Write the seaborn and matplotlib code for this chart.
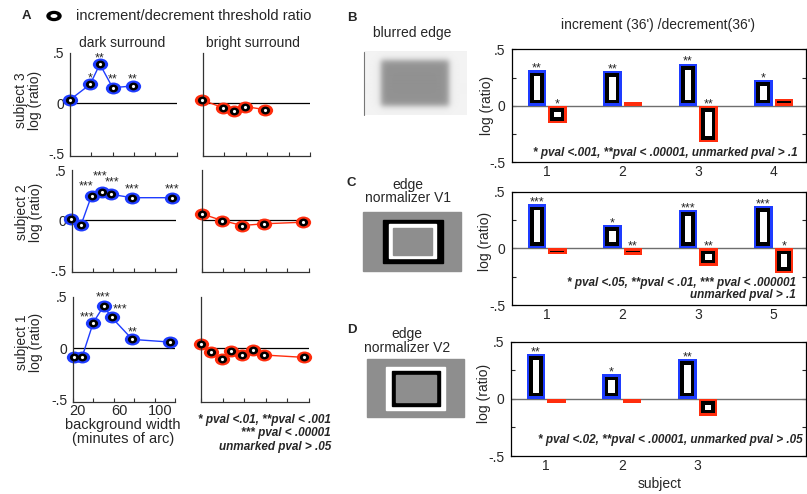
import numpy as np
import pandas as pd
import matplotlib
matplotlib.use("Agg")
import matplotlib.pyplot as plt
import seaborn as sns
from matplotlib.patches import Rectangle, Ellipse
from matplotlib.path import Path

# ------------------------------------------------------------------ data
# Panel A: log(increment/decrement threshold ratio) vs background width
s3_dark_x = [15, 34, 43, 55, 74]
s3_dark_y = [0.037, 0.19, 0.39, 0.157, 0.173]
s3_dark_stars = ["", "*", "**", "**", "**"]
s3_bright_x = [14, 34, 44, 54, 73]
s3_bright_y = [0.037, -0.043, -0.07, -0.03, -0.06]

s2_dark_x = [14, 24, 34, 44, 53, 73, 111]
s2_dark_y = [0.008, -0.048, 0.243, 0.276, 0.256, 0.223, 0.223]
s2_dark_stars = ["", "", "***", "***", "***", "***", "***"]
s2_bright_x = [15, 34, 53, 73, 110]
s2_bright_y = [0.062, -0.005, -0.055, -0.038, -0.022]

s1_dark_x = [16, 24, 35, 45, 53, 73, 110]
s1_dark_y = [-0.09, -0.09, 0.25, 0.41, 0.30, 0.086, 0.06]
s1_dark_stars = ["", "", "***", "***", "***", "**", ""]
s1_bright_x = [15, 24, 34, 43, 53, 63, 73, 110]
s1_bright_y = [0.044, -0.033, -0.105, -0.023, -0.066, -0.016, -0.066, -0.089]

a_xticks = [20, 60, 100]
a_xtick_labels = ["20", "60", "100"]
yticks_main = [-0.5, 0, 0.5]
ytick_labels = ["-.5", "0", ".5"]

# Panels B-D: log(ratio) per subject, increment (blue) / decrement (red)
b_subjects = ["1", "2", "3", "4"]
b_inc = [0.314, 0.308, 0.374, 0.23]
b_dec = [-0.155, 0.035, -0.323, 0.06]
b_inc_stars = ["**", "**", "**", "*"]
b_dec_stars = ["*", "", "**", ""]

c_subjects = ["1", "2", "3", "5"]
c_inc = [0.39, 0.206, 0.339, 0.377]
c_dec = [-0.05, -0.055, -0.154, -0.221]
c_inc_stars = ["***", "*", "***", "***"]
c_dec_stars = ["", "**", "**", "*"]

d_subjects = ["1", "2", "3"]
d_inc = [0.392, 0.216, 0.348]
d_dec = [-0.035, -0.035, -0.146]
d_inc_stars = ["**", "*", "**"]
d_dec_stars = ["", "", ""]

# ------------------------------------------------------------------ style
# star label offsets (pixels) for panel A
s3_star_dx = [0, 0, 0, 0, 0]
s3_star_dy = [10, 10, 10, 12, 11]
s2_star_dx = [0, 0, -5, -2, 1, 0, 0]
s2_star_dy = [11, 11, 13, 20, 16, 12, 12]
s1_star_dx = [0, 0, -6, 0, 8, 0, 0]
s1_star_dy = [11, 11, 9, 13, 12, 11, 11]

BLUE = "#1e3cff"
RED = "#ff2d0d"
GRAYIMG = "#8e8e8e"

sns.set_style("ticks")
plt.rcParams["font.family"] = ["Liberation Sans", "DejaVu Sans"]
plt.rcParams["font.size"] = 10

W, H = 807, 494
fig = plt.figure(figsize=(W / 100, H / 100), dpi=100)


def px_axes(x0, y0, x1, y1):
    return fig.add_axes([x0 / W, 1 - y1 / H, (x1 - x0) / W, (y1 - y0) / H])


circ = Path.unit_circle()
OUTER = Path(circ.vertices * np.array([1.0, 0.78]), circ.codes)
INNER = Path(circ.vertices * np.array([1.0, 0.85]), circ.codes)


def a_panel(rect, x, y, color, stars=None, sdx=None, sdy=None,
            ylabels=True, xlabels=False):
    ax = px_axes(*rect)
    ax.set_xlim(15, 115)
    ax.set_ylim(-0.52, 0.5)
    ax.axhline(0, color="black", lw=0.9, zorder=1)
    df = pd.DataFrame({"x": x, "y": y})
    sns.lineplot(data=df, x="x", y="y", ax=ax, color=color, lw=1.0,
                 marker=OUTER, markersize=11, markeredgewidth=0,
                 clip_on=False, zorder=2)
    sns.scatterplot(data=df, x="x", y="y", ax=ax, marker=INNER, s=6.6 ** 2,
                    color="black", linewidth=0, clip_on=False, zorder=3)
    sns.scatterplot(data=df, x="x", y="y", ax=ax, marker="o", s=2.3 ** 2,
                    color="white", linewidth=0, clip_on=False, zorder=4)
    if stars is not None:
        for xi, yi, s, dx, dy in zip(x, y, stars, sdx, sdy):
            if s:
                ax.annotate(s, (xi, yi), xytext=(dx * 0.72, (dy - 7.0) * 0.72),
                            textcoords="offset points", ha="center",
                            va="baseline", fontsize=9, annotation_clip=False)
    ax.set(xlabel="", ylabel="")
    ax.set_yticks(yticks_main)
    ax.set_yticklabels(ytick_labels if ylabels else [])
    ax.tick_params(axis="y", length=0, pad=4, labelsize=10)
    ax.set_xticks(a_xticks)
    ax.set_xticklabels(a_xtick_labels if xlabels else [])
    ax.set_xticks(np.arange(15, 116, 20), minor=True)
    ax.tick_params(axis="x", which="major", length=0, pad=2, labelsize=10.5)
    ax.tick_params(axis="x", which="minor", direction="in", length=3,
                   width=0.8, color="#333333")
    for side in ("top", "right"):
        ax.spines[side].set_visible(False)
    for side in ("left", "bottom"):
        ax.spines[side].set_color("#333333")
        ax.spines[side].set_linewidth(0.9)
    return ax


a_panel((70, 53, 176.5, 156), s3_dark_x, s3_dark_y, BLUE, s3_dark_stars,
        s3_star_dx, s3_star_dy)
a_panel((202.7, 53, 310, 156), s3_bright_x, s3_bright_y, RED, ylabels=False)
a_panel((71.7, 170, 176, 272), s2_dark_x, s2_dark_y, BLUE, s2_dark_stars,
        s2_star_dx, s2_star_dy)
a_panel((201.7, 170, 308.5, 272), s2_bright_x, s2_bright_y, RED, ylabels=False)
a_panel((72.7, 297, 175.5, 401.5), s1_dark_x, s1_dark_y, BLUE, s1_dark_stars,
        s1_star_dx, s1_star_dy, xlabels=True)
a_panel((201, 297, 309, 401.5), s1_bright_x, s1_bright_y, RED, ylabels=False)


def bar_panel(rect, subjects, inc, dec, inc_stars, dec_stars):
    ax = px_axes(*rect)
    n = len(subjects)
    df = pd.DataFrame({"subject": subjects * 2,
                       "cond": ["inc"] * n + ["dec"] * n,
                       "value": inc + dec})
    sns.barplot(data=df, x="subject", y="value", hue="cond",
                hue_order=["inc", "dec"], palette={"inc": BLUE, "dec": RED},
                width=0.544, gap=0.1, errorbar=None, linewidth=0,
                saturation=1, legend=False, ax=ax)
    ax.set_xlim(-0.464, 3.43)
    ax.set_ylim(-0.5, 0.5)
    ax.axhline(0, color="#6e6e6e", lw=1.0, zorder=1)
    sx = ax.bbox.width / (3.43 + 0.464)
    sy = ax.bbox.height / 1.0
    bars = sorted(ax.patches, key=lambda p: p.get_x())
    labels = [s for pair in zip(inc_stars, dec_stars) for s in pair]
    for p, s in zip(bars, labels):
        p.set_zorder(2)
        x0, w = p.get_x(), p.get_width()
        y0 = min(p.get_y(), p.get_y() + p.get_height())
        h = abs(p.get_height())
        for inset, col, z in ((2.4, "black", 3), (6.0, "white", 4)):
            dx, dy = inset / sx, inset / sy
            if w - 2 * dx > 0 and h - 2 * dy > 0:
                ax.add_patch(Rectangle((x0 + dx, y0 + dy), w - 2 * dx,
                                       h - 2 * dy, facecolor=col,
                                       edgecolor="none", zorder=z))
        if s:
            top = max(p.get_y(), p.get_y() + p.get_height(), 0)
            ax.annotate(s, (x0 + w / 2, top), xytext=(0, -1.0),
                        textcoords="offset points", ha="center",
                        va="baseline", fontsize=9)
    ax.set(xlabel="", ylabel="")
    ax.set_xticks(range(n))
    ax.set_xticklabels(subjects)
    ax.tick_params(axis="x", length=0, pad=2, labelsize=10)
    ax.set_yticks([-0.5, -0.25, 0, 0.25, 0.5])
    ax.set_yticklabels(["-.5", "", "0", "", ".5"])
    ax.tick_params(axis="y", direction="in", length=3, left=True, right=True,
                   labelsize=10, pad=5, width=0.8)
    for sp in ax.spines.values():
        sp.set_visible(True)
        sp.set_color("black")
        sp.set_linewidth(0.9)
    return ax


bar_panel((512, 49.3, 806, 162.3), b_subjects, b_inc, b_dec,
          b_inc_stars, b_dec_stars)
bar_panel((512, 191.7, 806, 305), c_subjects, c_inc, c_dec,
          c_inc_stars, c_dec_stars)
bar_panel((511, 341.7, 806, 456), d_subjects, d_inc, d_dec,
          d_inc_stars, d_dec_stars)

# ------------------------------------------------------------------ overlay (pixel coords)
ov = fig.add_axes([0, 0, 1, 1])
ov.axis("off")

# blurred edge stimulus
xs = np.arange(364, 467) + 0.5
ys = np.arange(52, 115) + 0.5


def ramp(v, a, b, s):
    return 0.5 * (np.tanh((v - a) / s) - np.tanh((v - b) / s))


img = 0.95 - 0.38 * np.outer(ramp(ys, 61, 106, 3.5), ramp(xs, 381, 449, 3.5))
ov.imshow(img, cmap="gray", vmin=0, vmax=1, extent=(364, 467, 115, 52),
          interpolation="bilinear", aspect="auto", zorder=1)
ov.plot([364.3, 364.3], [52, 115], color="#777777", lw=0.8)

# edge normalizer V1
ov.add_patch(Rectangle((363.3, 211.7), 97.7, 59.3, color=GRAYIMG))
ov.add_patch(Rectangle((382.7, 220), 60, 42.7, color="black"))
ov.add_patch(Rectangle((389.3, 224.3), 46.7, 34, color="white"))
ov.add_patch(Rectangle((393.3, 228.3), 38.4, 26.7, color=GRAYIMG))
# edge normalizer V2
ov.add_patch(Rectangle((366.7, 359.3), 97.3, 58, color=GRAYIMG))
ov.add_patch(Rectangle((386, 366.7), 59, 43.3, color="white"))
ov.add_patch(Rectangle((391.7, 370.7), 48.3, 35, color="black"))
ov.add_patch(Rectangle((396, 375), 40, 26.7, color=GRAYIMG))

# legend icon
ov.add_patch(Ellipse((54, 16), 14, 9, color="black"))
ov.add_patch(Ellipse((54, 16), 5.5, 2.5, color="white"))

ov.set_xlim(0, W)
ov.set_ylim(H, 0)


def T(x, y, s, **kw):
    kw.setdefault("fontsize", 10)
    kw.setdefault("ha", "center")
    kw.setdefault("va", "center")
    ov.text(x, y, s, **kw)


BI = dict(fontsize=8.5, weight="bold", style="italic")

T(26.7, 16, "A", weight="bold", fontsize=9.5)
T(76, 16, "increment/decrement threshold ratio", ha="left", fontsize=10.5)
T(121.7, 43.3, "dark surround")
T(253.3, 43.3, "bright surround")
T(28, 100, "subject 3\nlog (ratio)", rotation=90, linespacing=1.05,
  multialignment="center")
T(29, 212, "subject 2\nlog (ratio)", rotation=90, linespacing=1.05,
  multialignment="center")
T(29, 342, "subject 1\nlog (ratio)", rotation=90, linespacing=1.05,
  multialignment="center")
T(123, 425, "background width", fontsize=10.5)
T(123, 439, "(minutes of arc)", fontsize=10.5)
T(331, 420, "* pval <.01, **pval < .001", ha="right", **BI)
T(331, 433.3, "*** pval < .00001", ha="right", **BI)
T(331, 446.7, "unmarked pval > .05", ha="right", **BI)

T(351.7, 18.3, "B", weight="bold", fontsize=9.5)
T(351.7, 183.3, "C", weight="bold", fontsize=9.5)
T(351.7, 330, "D", weight="bold", fontsize=9.5)
T(411.7, 33.3, "blurred edge")
T(658.3, 25, "increment (36') /decrement(36')")
T(408.3, 191.5, "edge\nnormalizer V1", linespacing=0.92)
T(406.7, 341, "edge\nnormalizer V2", linespacing=1.0)
T(486.7, 105, "log (ratio)", rotation=90)
T(485, 241, "log (ratio)", rotation=90)
T(484, 393, "log (ratio)", rotation=90)
T(660, 484, "subject")
T(798, 152.7, "* pval <.001, **pval < .00001, unmarked pval > .1", ha="right", **BI)
T(796, 283.3, "* pval <.05, **pval < .01, *** pval < .000001", ha="right", **BI)
T(796, 295, "unmarked pval > .1", ha="right", **BI)
T(803, 440, "* pval <.02, **pval < .00001, unmarked pval > .05", ha="right", **BI)

fig.savefig("out.png", dpi=100)
